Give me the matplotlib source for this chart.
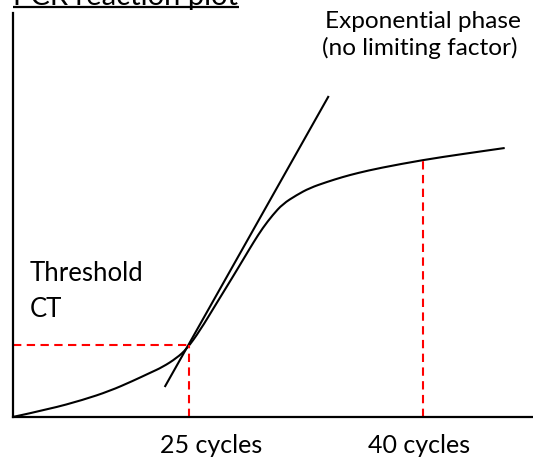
import matplotlib
matplotlib.use("Agg")
import matplotlib.pyplot as plt
from matplotlib.path import Path
from matplotlib.patches import PathPatch

plt.rcParams["font.family"] = ["Lato", "DejaVu Sans"]

# amplification curve (arbitrary units)
curve_x = [0, 37, 70, 97, 120, 137, 150, 164, 174, 187, 204, 220, 232, 241,
           250, 260, 270, 284, 297, 314, 330, 345, 367, 410, 450, 492]
curve_y = [0, 8, 17, 26, 36, 44, 50, 59, 68, 86, 114, 140, 160, 175,
           189, 202, 213, 222, 229, 235, 240, 244, 249, 257, 263, 269]

# tangent to the exponential phase
tangent_x = [152, 316]
tangent_y = [30, 321]

# threshold crossing (25 cycles) and plateau point (40 cycles)
ct_x, ct_y = 176, 72
end_x, end_y = 410, 258

cycle_labels = ["25 cycles", "40 cycles"]
cycle_label_x = [147, 355]

fig = plt.figure(figsize=(5.33, 4.6), dpi=100)
ax = fig.add_axes([12.7 / 533, 42 / 460, 520.3 / 533, 404 / 460])
ax.set_xlim(0, 520.3)
ax.set_ylim(0, 404)

for side in ["top", "right"]:
    ax.spines[side].set_visible(False)
for side in ["left", "bottom"]:
    ax.spines[side].set_linewidth(1.6)
    ax.spines[side].set_color("black")
ax.set_xticks([])
ax.set_yticks([])

# smooth the hand-read points with quadratic bezier segments
pts = list(zip(curve_x, curve_y))
verts = [pts[0]]
codes = [Path.MOVETO]
for i in range(1, len(pts) - 1):
    mid = ((pts[i][0] + pts[i + 1][0]) / 2, (pts[i][1] + pts[i + 1][1]) / 2)
    verts += [pts[i], mid]
    codes += [Path.CURVE3, Path.CURVE3]
verts.append(pts[-1])
codes.append(Path.LINETO)
ax.add_patch(PathPatch(Path(verts, codes), facecolor="none",
                       edgecolor="black", lw=1.5))

ax.plot(tangent_x, tangent_y, color="black", lw=1.5, solid_capstyle="butt")

dash = (0, (4, 2.6))
ax.plot([0, ct_x], [ct_y, ct_y], color="#ff0000", lw=1.5, linestyle=dash)
ax.plot([ct_x, ct_x], [0, ct_y], color="#ff0000", lw=1.5, linestyle=dash)
ax.plot([end_x, end_x], [0, end_y], color="#ff0000", lw=1.5, linestyle=dash)

fs = 17.6
ax.text(312, 390, "Exponential phase", fontsize=fs, va="baseline", clip_on=False)
ax.text(309, 363, "(no limiting factor)", fontsize=fs, va="baseline", clip_on=False)
ax.text(17, 137, "Threshold", fontsize=18.5, va="baseline", clip_on=False)
ax.text(17, 101, "CT", fontsize=18.5, va="baseline", clip_on=False)
for lbl, lx in zip(cycle_labels, cycle_label_x):
    ax.text(lx, -35, lbl, fontsize=18, va="baseline", clip_on=False)

# title, mostly cut off by the top edge, underlined
ax.text(0, 413, "PCR reaction plot", fontsize=21, va="baseline", clip_on=False)
ax.plot([0, 226], [410.5, 410.5], color="black", lw=1.6, clip_on=False,
        solid_capstyle="butt")

fig.savefig("out.png", dpi=100)
